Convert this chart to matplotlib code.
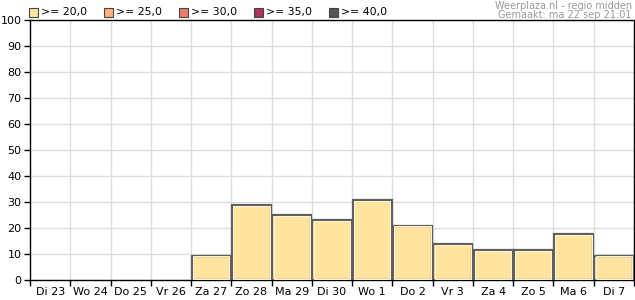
import numpy as np
import matplotlib
matplotlib.use("Agg")
import matplotlib.pyplot as plt
from matplotlib.patches import Rectangle

# data
days = ["Di 23", "Wo 24", "Do 25", "Vr 26", "Za 27", "Zo 28", "Ma 29", "Di 30",
        "Wo 1", "Do 2", "Vr 3", "Za 4", "Zo 5", "Ma 6", "Di 7"]
values = [0, 0, 0, 0, 9.4, 28.8, 24.9, 22.9, 30.6, 20.9, 13.7, 11.6, 11.6, 17.6, 9.4]

legend_labels = [">= 20,0", ">= 25,0", ">= 30,0", ">= 35,0", ">= 40,0"]
legend_colors = ["#FFE49F", "#FFB27A", "#F07A6A", "#B0305E", "#555555"]

plt.rcParams['font.family'] = ['DejaVu Sans']

fig = plt.figure(figsize=(6.35, 3.0), dpi=100)
ax = fig.add_axes([30/635, 1 - 280/300, 604/635, 260/300])

x = np.arange(len(days))
vals = np.array(values, dtype=float)
has = vals > 0

# bars: dark outline with light inner rim
ax.bar(x[has], vals[has], width=0.97, color=legend_colors[0],
       edgecolor="#5f5f5f", linewidth=1.6, zorder=3)
ax.bar(x[has], vals[has] - 0.6, width=0.90, bottom=0.3, color="none",
       edgecolor="#fff6dc", linewidth=0.7, zorder=4)

ax.set_xlim(-0.5, len(days) - 0.5)
ax.set_ylim(0, 100)
ax.set_yticks(np.arange(0, 101, 10))
ax.set_xticks(np.arange(len(days) + 1) - 0.5)
ax.set_xticklabels([])
ax.set_xticks(x, minor=True)
ax.set_xticklabels(days, minor=True)
ax.tick_params(axis="x", which="minor", length=0, pad=5, labelsize=8)
ax.tick_params(axis="x", which="major", length=4, width=1, color="black")
ax.tick_params(axis="y", length=4, width=1, labelsize=8, pad=2)
ax.grid(True, which="major", color="#dddddd", linewidth=1, zorder=0)
ax.set_axisbelow(True)
for s in ax.spines.values():
    s.set_color("black")
    s.set_linewidth(1)

# legend along the top
for i, (lab, col) in enumerate(zip(legend_labels, legend_colors)):
    px = 29 + 75 * i
    fig.patches.append(Rectangle((px / 635, 1 - 17/300), 9/635, 9/300,
                                 transform=fig.transFigure, facecolor=col,
                                 edgecolor="#444444", linewidth=0.8))
    fig.text((px + 12) / 635, 1 - 12.5/300, lab, fontsize=7.8, va="center", ha="left")

fig.text(632/635, 1 - 6/300, "Weerplaza.nl - regio midden", fontsize=7,
         color="#999999", ha="right", va="center")
fig.text(632/635, 1 - 15/300, "Gemaakt: ma 22 sep 21:01", fontsize=7,
         color="#999999", ha="right", va="center")

fig.savefig("out.png", dpi=100, facecolor="white")
